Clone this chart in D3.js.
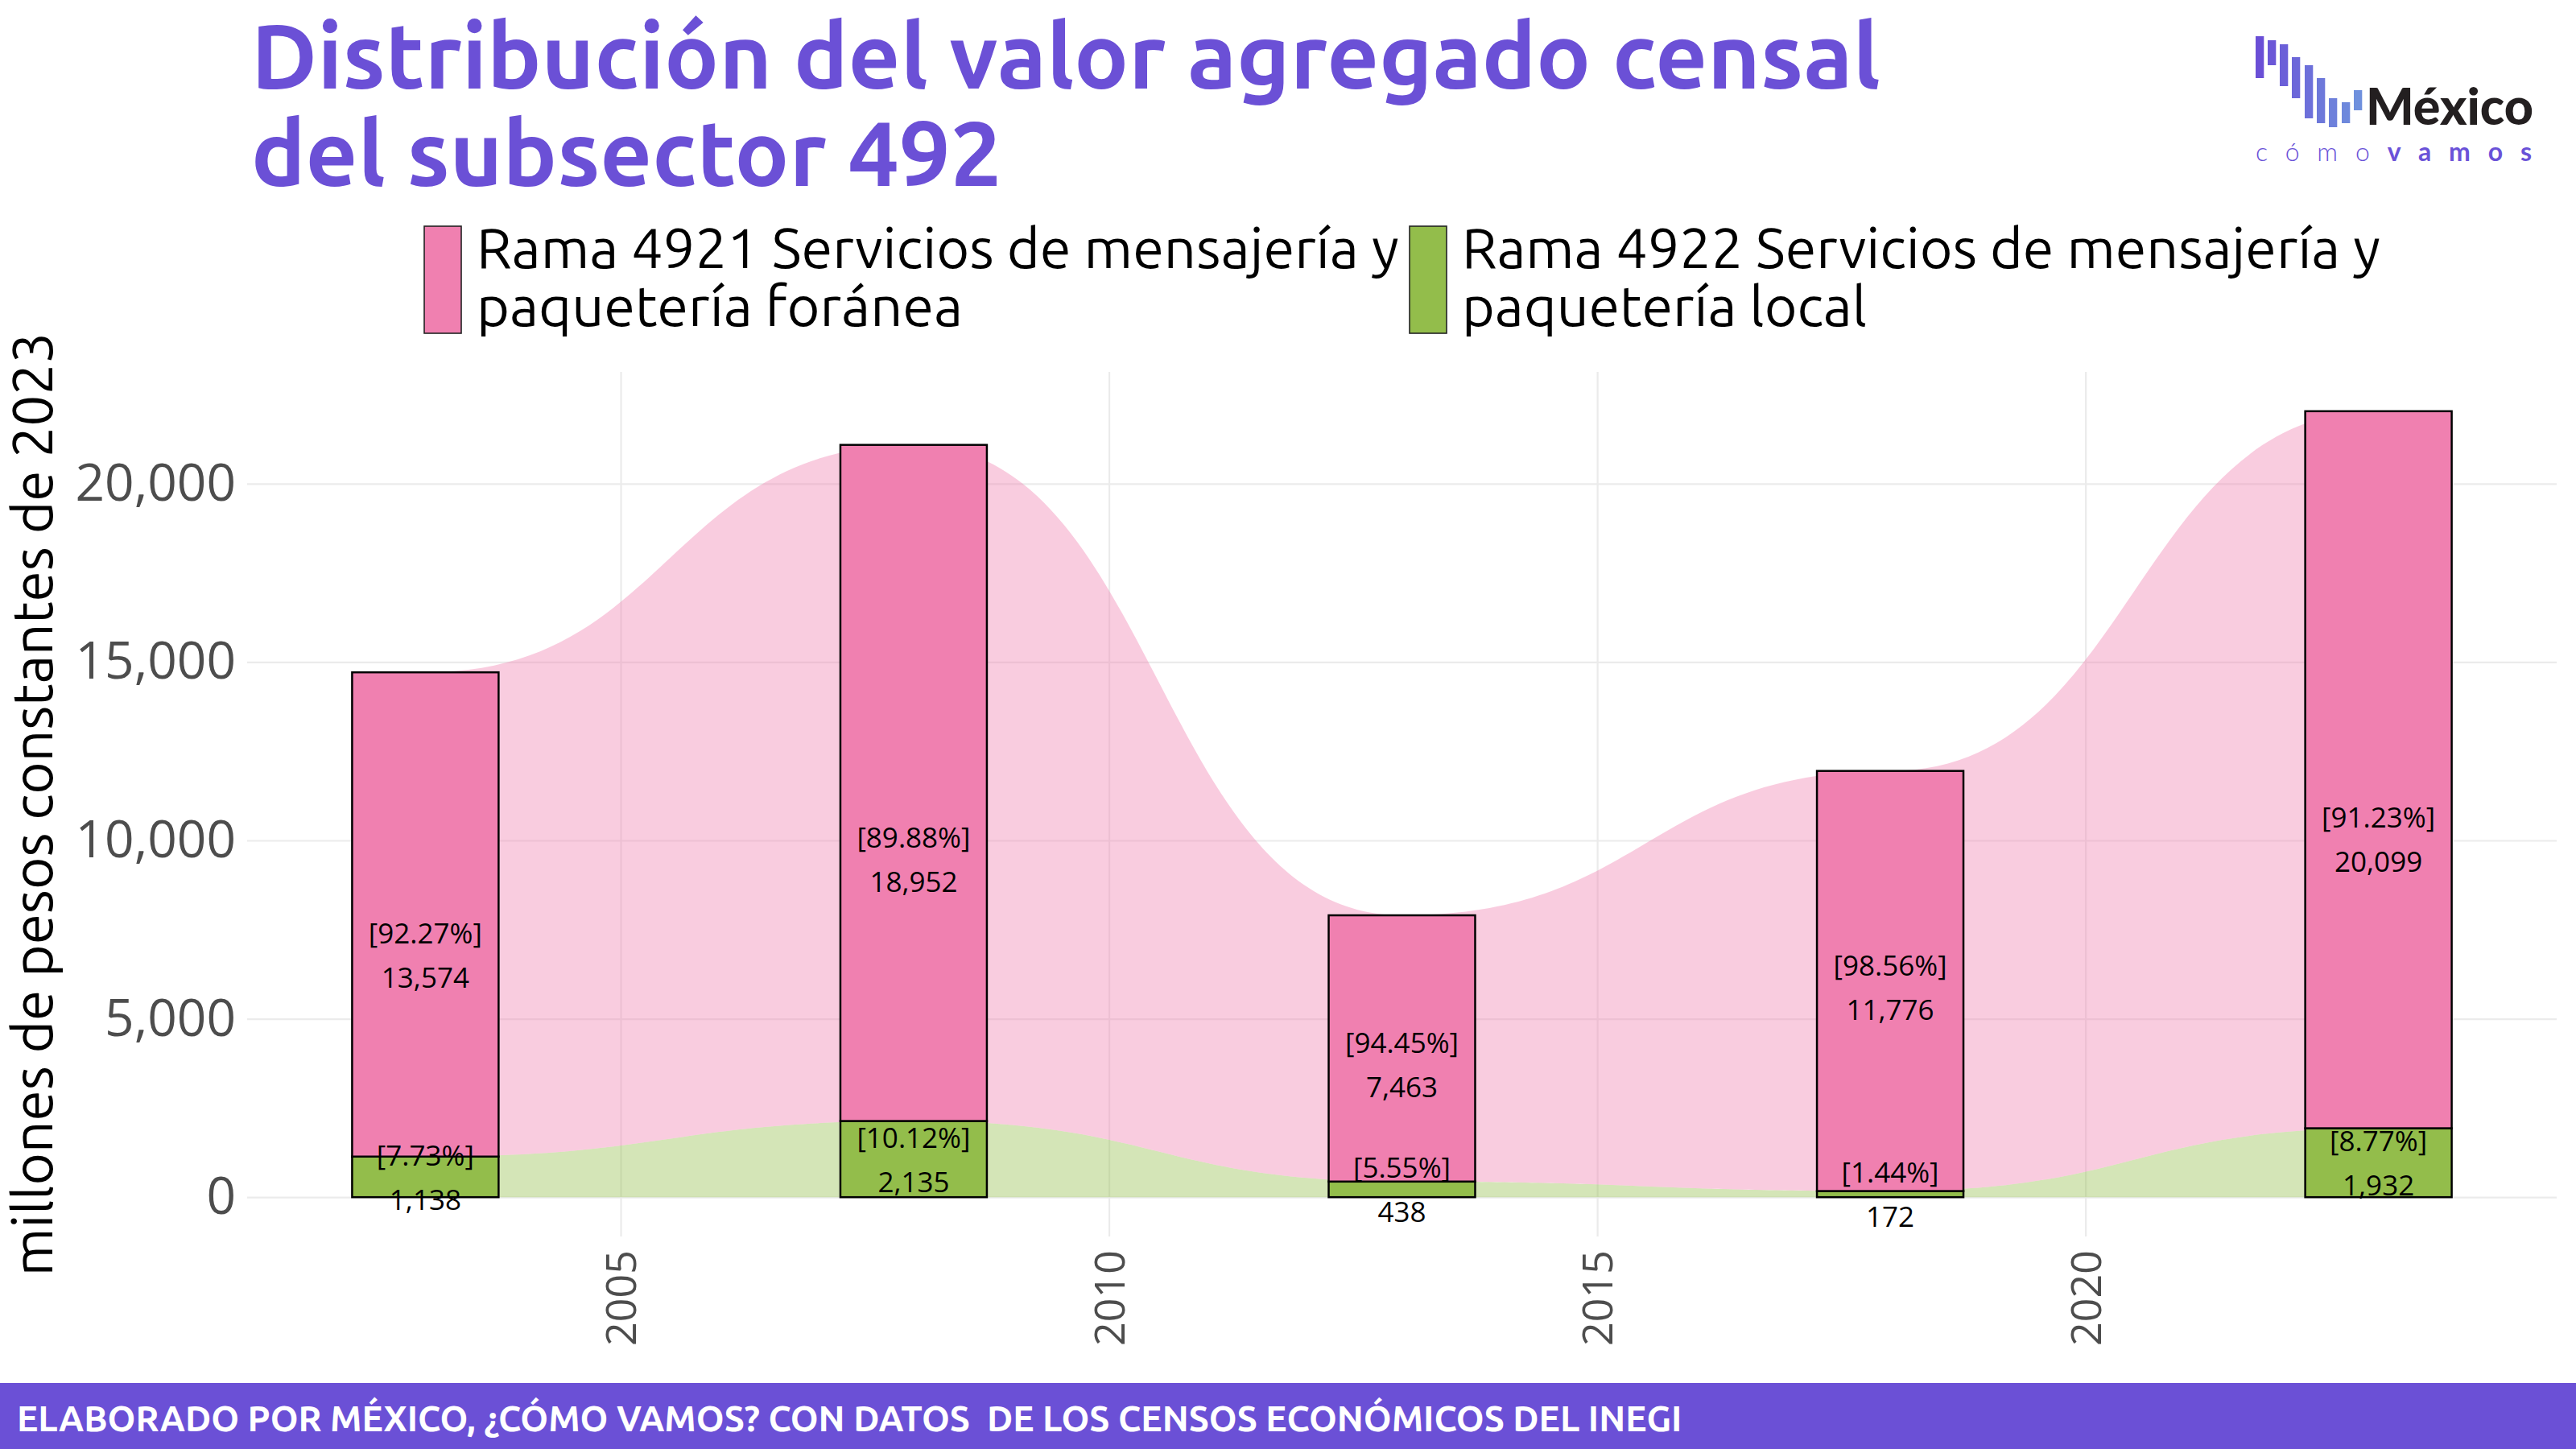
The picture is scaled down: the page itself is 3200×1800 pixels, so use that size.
<!DOCTYPE html>
<html><head><meta charset="utf-8">
<script src="https://cdn.jsdelivr.net/npm/d3@7"></script>
<style>body{margin:0;background:#fff} svg{display:block}</style>
</head><body><svg id="c" width="3200" height="1800"></svg>
<script>
// ---------- DATA ----------
const years = [2003, 2008, 2013, 2018, 2023];
const foranea = [13574, 18952, 7463, 11776, 20099];   // Rama 4921
const local = [1138, 2135, 438, 172, 1932];            // Rama 4922
const foraneaPct = ["92.27%", "89.88%", "94.45%", "98.56%", "91.23%"];
const localPct = ["7.73%", "10.12%", "5.55%", "1.44%", "8.77%"];
const yTicks = [0, 5000, 10000, 15000, 20000];
const xTicks = [2005, 2010, 2015, 2020];
const legendLabels = [["Rama 4921 Servicios de mensajería y", "paquetería foránea"],
                      ["Rama 4922 Servicios de mensajería y", "paquetería local"]];
const titleLines = ["Distribución del valor agregado censal", "del subsector 492"];
const yTitle = "millones de pesos constantes de 2023";
const footer = "ELABORADO POR MÉXICO, ¿CÓMO VAMOS? CON DATOS  DE LOS CENSOS ECONÓMICOS DEL INEGI";

// ---------- STYLE ----------
const colors = {foranea: "#F080B0", local: "#93BD4B"};
const purple = "#6B50D6";
const uFont = "Ubuntu, 'Noto Sans', 'Open Sans', sans-serif";
const oFont = "'Open Sans', 'Noto Sans', sans-serif";
const panel = {left: 307, right: 3176, top: 462, bottom: 1536};
const barW = 1.5;

const svg = d3.select("#c");

function fit(sel, target, minS = 0.85, maxS = 1.15) {
  const node = sel.node();
  const fs = parseFloat(sel.attr("font-size"));
  const w = node.getComputedTextLength();
  if (!w) return 1;
  const s = Math.max(minS, Math.min(maxS, target / w));
  sel.attr("font-size", fs * s);
  const w2 = node.getComputedTextLength();
  if (Math.abs(w2 - target) > 3) sel.attr("textLength", target).attr("lengthAdjust", "spacing");
  return s;
}

// ---------- SCALES ----------
const xMin = d3.min(years) - barW / 2, xMax = d3.max(years) + barW / 2;
const xPad = (xMax - xMin) * 0.05;
const x = d3.scaleLinear().domain([xMin - xPad, xMax + xPad]).range([panel.left, panel.right]);
const totals = years.map((_, i) => foranea[i] + local[i]);
const yTop = d3.max(totals), yPad = yTop * 0.05;
const y = d3.scaleLinear().domain([-yPad, yTop + yPad]).range([panel.bottom, panel.top]);

// ---------- GRID + AXES ----------
const yAxis = svg.append("g").attr("transform", `translate(${panel.left},0)`)
  .call(d3.axisLeft(y).tickValues(yTicks).tickSize(-(panel.right - panel.left)).tickPadding(14).tickFormat(d3.format(",")));
yAxis.select(".domain").remove();
yAxis.selectAll("line").attr("stroke", "#EBEBEB").attr("stroke-width", 2.2);
yAxis.selectAll("text").attr("font-family", oFont).attr("font-size", 64).attr("fill", "#4D4D4D");

const xAxis = svg.append("g").attr("transform", `translate(0,${panel.bottom})`)
  .call(d3.axisBottom(x).tickValues(xTicks).tickSize(-(panel.bottom - panel.top)).tickFormat(d3.format("d")));
xAxis.select(".domain").remove();
xAxis.selectAll("line").attr("stroke", "#EBEBEB").attr("stroke-width", 2.2);
xAxis.selectAll("text").attr("font-family", oFont).attr("font-size", 52).attr("fill", "#4D4D4D")
  .attr("transform", "rotate(-90)").attr("text-anchor", "end").attr("x", -17).attr("y", 0).attr("dy", "0.36em");

// ---------- AREAS ----------
const table = years.map((yr, i) => ({year: yr, local: local[i], foranea: foranea[i]}));
const stacked = d3.stack().keys(["local", "foranea"])(table);
const area = d3.area().x(d => x(d.data.year)).y0(d => y(d[0])).y1(d => y(d[1])).curve(d3.curveBumpX);
svg.append("g").selectAll("path").data(stacked).join("path")
  .attr("d", area).attr("fill", d => colors[d.key]).attr("fill-opacity", 0.4);

// ---------- BARS ----------
const bars = svg.append("g");
stacked.forEach(s => {
  bars.selectAll(null).data(s).join("rect")
    .attr("x", d => x(d.data.year - barW / 2))
    .attr("width", d => x(d.data.year + barW / 2) - x(d.data.year - barW / 2))
    .attr("y", d => y(d[1])).attr("height", d => y(d[0]) - y(d[1]))
    .attr("fill", colors[s.key]).attr("stroke", "#000").attr("stroke-width", 2.5);
});

// ---------- LABELS ----------
const labels = svg.append("g").attr("font-family", oFont).attr("font-size", 35).attr("fill", "#000").attr("text-anchor", "middle");
[[foranea, foraneaPct], [local, localPct]].forEach(([vals, pcts]) => {
  years.forEach((yr, i) => {
    const cy = y(vals[i] / 2);
    labels.append("text").attr("x", x(yr)).attr("y", cy - 27.5).attr("dominant-baseline", "central").text(`[${pcts[i]}]`);
    labels.append("text").attr("x", x(yr)).attr("y", cy + 27.5).attr("dominant-baseline", "central").text(d3.format(",")(vals[i]));
  });
});

// ---------- Y TITLE ----------
const yt = svg.append("text").attr("transform", `translate(65,${(panel.top + panel.bottom) / 2}) rotate(-90)`)
  .attr("text-anchor", "middle").attr("font-family", uFont).attr("font-size", 64).attr("fill", "#000").text(yTitle);
fit(yt, 1173);

// ---------- LEGEND ----------
const legX = [527, 1751], legTextX = [592, 1816], legW = [1146, 1141];
["foranea", "local"].forEach((k, i) => {
  svg.append("rect").attr("x", legX[i]).attr("y", 281).attr("width", 46).attr("height", 133)
    .attr("fill", colors[k]).attr("stroke", "#222").attr("stroke-width", 1.6);
  const t1 = svg.append("text").attr("x", legTextX[i]).attr("y", 333).attr("font-family", uFont).attr("font-size", 62).text(legendLabels[i][0]);
  const s = fit(t1, legW[i], 0.7, 1.3);
  svg.append("text").attr("x", legTextX[i]).attr("y", 405).attr("font-family", uFont).attr("font-size", 62 * s).text(legendLabels[i][1]);
});

// ---------- TITLE ----------
const t1 = svg.append("text").attr("x", 312).attr("y", 110).attr("font-family", uFont).attr("font-weight", 700)
  .attr("font-size", 109).attr("fill", purple).text(titleLines[0]);
const ts = fit(t1, 2024);
const t2 = svg.append("text").attr("x", 312).attr("y", 231).attr("font-family", uFont).attr("font-weight", 700)
  .attr("font-size", 109 * ts).attr("fill", purple).text(titleLines[1]);
if (t1.attr("textLength")) {
  const w = t2.node().getComputedTextLength();
  t2.attr("textLength", w * 2024 / (t1.node().getComputedTextLength() || 2024)).attr("lengthAdjust", "spacing");
}

// ---------- LOGO ----------
const logoBars = [[2802, 45, 97], [2817, 50, 81], [2832, 55, 107], [2847, 71, 122], [2863, 81, 147], [2878, 97, 153], [2893, 122, 158], [2909, 127, 153], [2924, 112, 137]];
const lc = d3.interpolateRgb("#6A4FD6", "#6F90DD");
svg.append("g").selectAll("rect").data(logoBars).join("rect")
  .attr("x", d => d[0]).attr("y", d => d[1]).attr("width", 10.3).attr("height", d => d[2] - d[1])
  .attr("fill", (d, i) => lc(i / (logoBars.length - 1)));
const mx = svg.append("text").attr("x", 2939).attr("y", 155).attr("font-family", "Lato, 'Open Sans', sans-serif").attr("font-weight", 900)
  .attr("font-size", 60).attr("fill", "#231F20").text("México");
fit(mx, 208, 0.7, 1.4);
const cv = svg.append("text").attr("x", 2802).attr("y", 200).attr("font-family", "Lato, 'Open Sans', sans-serif")
  .attr("font-size", 32).attr("fill", "#6A52D8");
cv.append("tspan").attr("font-weight", 300).text("cómo");
cv.append("tspan").attr("font-weight", 700).text("vamos");
cv.attr("textLength", 343).attr("lengthAdjust", "spacing");

// ---------- FOOTER ----------
svg.append("rect").attr("x", 0).attr("y", 1718).attr("width", 3200).attr("height", 82).attr("fill", purple);
const ft = svg.append("text").attr("x", 21).attr("y", 1778).attr("font-family", uFont).attr("font-weight", 700)
  .attr("font-size", 42).attr("fill", "#fff").attr("xml:space", "preserve").style("white-space", "pre").text(footer);
fit(ft, 2069, 0.75, 1.25);
</script></body></html>
